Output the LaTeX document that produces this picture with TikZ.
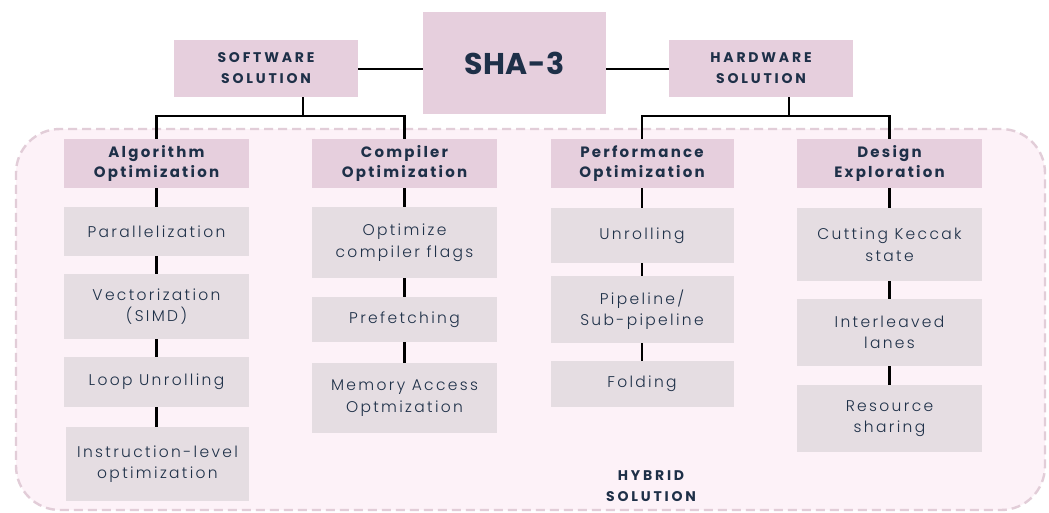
\documentclass[tikz,border=0pt]{standalone}
\usepackage{fontspec}
\newfontfamily\hdfont{Poppins}[LetterSpace=15]
\newfontfamily\capfont{Poppins}[LetterSpace=20]
\newfontfamily\shafont{Poppins}[LetterSpace=2]
\newfontfamily\itfont{Poppins Light}[LetterSpace=15]
\definecolor{navy}{HTML}{1E3048}
\definecolor{hdrfill}{HTML}{E6CFDD}
\definecolor{itmfill}{HTML}{E5DDE2}
\definecolor{regfill}{HTML}{FDF2F8}
\definecolor{regdraw}{HTML}{E2CDD8}
\tikzset{
  hdr/.style={fill=hdrfill, inner sep=0pt, align=center, text=navy, font=\hdfont\bfseries\fontsize{15}{20}\selectfont},
  top/.style={fill=hdrfill, inner sep=0pt, align=center, text=navy, font=\capfont\bfseries\fontsize{14}{21}\selectfont},
  itm/.style={fill=itmfill, inner sep=0pt, align=center, text=navy, font=\itfont\fontsize{15.5}{21.5}\selectfont},
  conn/.style={line width=2.8pt, black},
  region/.style={fill=regfill, draw=regdraw, line width=2.4pt, dash pattern=on 9pt off 5pt, rounded corners=44pt, inner sep=0pt}
}
\begin{document}
\begin{tikzpicture}[x=1pt,y=-1pt]
\useasboundingbox (0,0) rectangle (1049,512);
\fill[white] (0,0) rectangle (1049,512);
\node[region, minimum width=1029pt, minimum height=381pt] (hyb) at (530.5,319.5) {};
\node[top, text=navy, font=\capfont\bfseries\fontsize{14}{21}\selectfont, fill=none] (hybl) at (651,486) {HYBRID\\SOLUTION};

% top level
\node[top, minimum width=183pt, minimum height=102pt, font=\shafont\bfseries\fontsize{30}{34}\selectfont] (sha) at (514.5,63) {SHA-3};
\node[top, minimum width=184pt, minimum height=57pt] (sw) at (266,68.5) {SOFTWARE\\SOLUTION};
\node[top, minimum width=184pt, minimum height=57pt] (hw) at (761,68.5) {HARDWARE\\SOLUTION};

% headers
\node[hdr, minimum width=185pt, minimum height=49pt] (alg) at (156.5,163.5) {Algorithm\\Optimization};
\node[hdr, minimum width=185pt, minimum height=49pt] (comp) at (404.5,163.5) {Compiler\\Optimization};
\node[hdr, minimum width=183pt, minimum height=49pt] (perf) at (642,163.5) {Performance\\Optimization};
\node[hdr, minimum width=185pt, minimum height=49pt] (des) at (889.5,163.5) {Design\\Exploration};

% algorithm column
\node[itm, minimum width=185pt, minimum height=49pt] (par) at (156.5,231.5) {Parallelization};
\node[itm, minimum width=185pt, minimum height=65pt] (vec) at (156.5,306.5) {Vectorization\\(SIMD)};
\node[itm, minimum width=185pt, minimum height=50pt] (loop) at (156.5,382) {Loop Unrolling};
\node[itm, minimum width=183pt, minimum height=74pt] (ins) at (157.5,464) {Instruction-level\\optimization};

% compiler column
\node[itm, minimum width=185pt, minimum height=71pt] (flags) at (404.5,242.5) {Optimize\\compiler flags};
\node[itm, minimum width=185pt, minimum height=45pt] (pref) at (404.5,319.5) {Prefetching};
\node[itm, minimum width=185pt, minimum height=70pt] (mem) at (404.5,398) {Memory Access\\Optmization};

% performance column
\node[itm, minimum width=183pt, minimum height=55pt] (unr) at (642,235.5) {Unrolling};
\node[itm, minimum width=183pt, minimum height=67pt] (pipe) at (642,309.5) {Pipeline/\\Sub-pipeline};
\node[itm, minimum width=183pt, minimum height=46pt] (fold) at (642,384) {Folding};

% design column
\node[itm, minimum width=185pt, minimum height=73pt] (cut) at (889.5,244.5) {Cutting Keccak\\state};
\node[itm, minimum width=185pt, minimum height=67pt] (intl) at (889.5,332.5) {Interleaved\\lanes};
\node[itm, minimum width=185pt, minimum height=67pt] (res) at (889.5,418.5) {Resource\\sharing};

% top connectors
\draw[conn] (sw.east |- 0,69) -- (sha.west |- 0,69);
\draw[conn] (sha.east |- 0,69) -- (hw.west |- 0,69);
\coordinate (swj) at (303,116);
\coordinate (hwj) at (789,116);
\draw[conn] (alg.north) |- (swj) -| (comp.north);
\draw[conn] (swj) -- (swj |- sw.south);
\draw[conn] (perf.north) |- (hwj) -| (des.north);
\draw[conn] (hwj) -- (hwj |- hw.south);

% column connectors
\draw[conn] (alg.south) -- (par.north);
\draw[conn] (par.south) -- (vec.north);
\draw[conn] (vec.south) -- (loop.north);
\draw[conn] (loop.south) -- (loop.south |- ins.north);
\draw[conn] (comp.south) -- (flags.north);
\draw[conn] (flags.south) -- (pref.north);
\draw[conn] (pref.south) -- (mem.north);
\draw[conn] (perf.south) -- (unr.north);
\draw[conn] (unr.south) -- (pipe.north);
\draw[conn] (pipe.south) -- (fold.north);
\draw[conn] (des.south) -- (cut.north);
\draw[conn] (cut.south) -- (intl.north);
\draw[conn] (intl.south) -- (res.north);
\end{tikzpicture}
\end{document}
